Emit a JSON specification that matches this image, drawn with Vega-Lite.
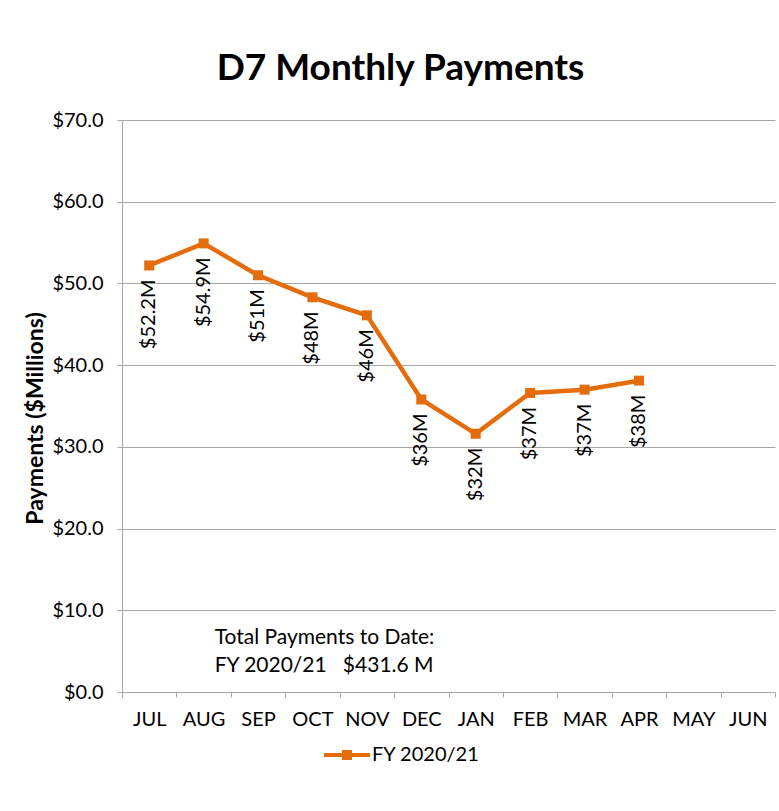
{
  "$schema": "https://vega.github.io/schema/vega-lite/v6.json",
  "width": 653,
  "height": 572,
  "autosize": {"type": "none"},
  "padding": {"left": 122, "top": 120, "right": 4, "bottom": 119},
  "background": "white",
  "config": {"view": {"stroke": null}, "font": "Lato"},
  "title": {
    "text": "D7 Monthly Payments",
    "font": "Lato",
    "fontSize": 37,
    "fontWeight": "bold",
    "color": "#000000",
    "anchor": "middle",
    "dx": -48,
    "offset": 22
  },
  "datasets": {
    "payments": [
      {"month": "JUL", "value": 52.2, "label": "$52.2M", "series": "FY 2020/21"},
      {"month": "AUG", "value": 54.9, "label": "$54.9M", "series": "FY 2020/21"},
      {"month": "SEP", "value": 51.0, "label": "$51M", "series": "FY 2020/21"},
      {"month": "OCT", "value": 48.3, "label": "$48M", "series": "FY 2020/21"},
      {"month": "NOV", "value": 46.1, "label": "$46M", "series": "FY 2020/21"},
      {"month": "DEC", "value": 35.8, "label": "$36M", "series": "FY 2020/21"},
      {"month": "JAN", "value": 31.6, "label": "$32M", "series": "FY 2020/21"},
      {"month": "FEB", "value": 36.6, "label": "$37M", "series": "FY 2020/21"},
      {"month": "MAR", "value": 37.0, "label": "$37M", "series": "FY 2020/21"},
      {"month": "APR", "value": 38.1, "label": "$38M", "series": "FY 2020/21"}
    ],
    "note": [
      {"month": "AUG", "value": 6.6, "label": "Total Payments to Date:"},
      {"month": "AUG", "value": 3.2, "label": "FY 2020/21\u00a0\u00a0 $431.6 M"}
    ]
  },
  "encoding": {
    "x": {
      "field": "month",
      "type": "ordinal",
      "bandPosition": 0.5,
      "scale": {
        "type": "band",
        "domain": ["JUL", "AUG", "SEP", "OCT", "NOV", "DEC", "JAN", "FEB", "MAR", "APR", "MAY", "JUN"],
        "paddingInner": 0,
        "paddingOuter": 0
      },
      "axis": {
        "title": null,
        "tickBand": "extent",
        "labelAngle": 0,
        "labelFontSize": 20,
        "labelFont": "Lato",
        "labelColor": "#000000",
        "labelPadding": 12,
        "tickSize": 5,
        "tickColor": "#a6a6a6",
        "domainColor": "#a6a6a6",
        "grid": false
      }
    },
    "y": {
      "field": "value",
      "type": "quantitative",
      "scale": {"domain": [0, 70], "nice": false, "zero": true},
      "axis": {
        "title": "Payments ($Millions)",
        "titleFont": "Lato",
        "titleFontSize": 23,
        "titleFontWeight": "bold",
        "titleColor": "#000000",
        "titleX": -87,
        "titleY": 298,
        "titleAngle": 270,
        "titleAlign": "center",
        "titleBaseline": "middle",
        "values": [0, 10, 20, 30, 40, 50, 60, 70],
        "format": "$.1f",
        "labelFontSize": 20,
        "labelFont": "Lato",
        "labelColor": "#000000",
        "labelPadding": 14,
        "tickSize": 5,
        "tickColor": "#a6a6a6",
        "domainColor": "#a6a6a6",
        "gridColor": "#a6a6a6",
        "gridWidth": 1
      }
    }
  },
  "layer": [
    {
      "data": {"name": "payments"},
      "mark": {"type": "line", "color": "#E46C0A", "strokeWidth": 4.5},
      "encoding": {}
    },
    {
      "data": {"name": "payments"},
      "mark": {"type": "square", "size": 100, "filled": true, "opacity": 1},
      "encoding": {
        "color": {
          "field": "series",
          "type": "nominal",
          "scale": {"domain": ["FY 2020/21"], "range": ["#E46C0A"]},
          "legend": {
            "title": null,
            "orient": "none",
            "legendX": 202,
            "legendY": 612,
            "symbolType": "M-1,-0.09H1V0.09H-1Z M-0.22,-0.22H0.22V0.22H-0.22Z",
            "symbolSize": 2116,
            "symbolStrokeWidth": 0,
            "labelFontSize": 20,
            "labelFont": "Lato",
            "labelColor": "#000000",
            "labelOffset": 2
          }
        }
      }
    },
    {
      "data": {"name": "payments"},
      "mark": {"type": "text", "angle": 270, "align": "right", "baseline": "middle", "dx": -14, "fontSize": 20, "font": "Lato", "color": "#000000"},
      "encoding": {"text": {"field": "label"}}
    },
    {
      "data": {"name": "note"},
      "mark": {"type": "text", "align": "left", "baseline": "middle", "dx": 11, "fontSize": 21, "font": "Lato", "color": "#000000"},
      "encoding": {"text": {"field": "label"}}
    }
  ]
}
